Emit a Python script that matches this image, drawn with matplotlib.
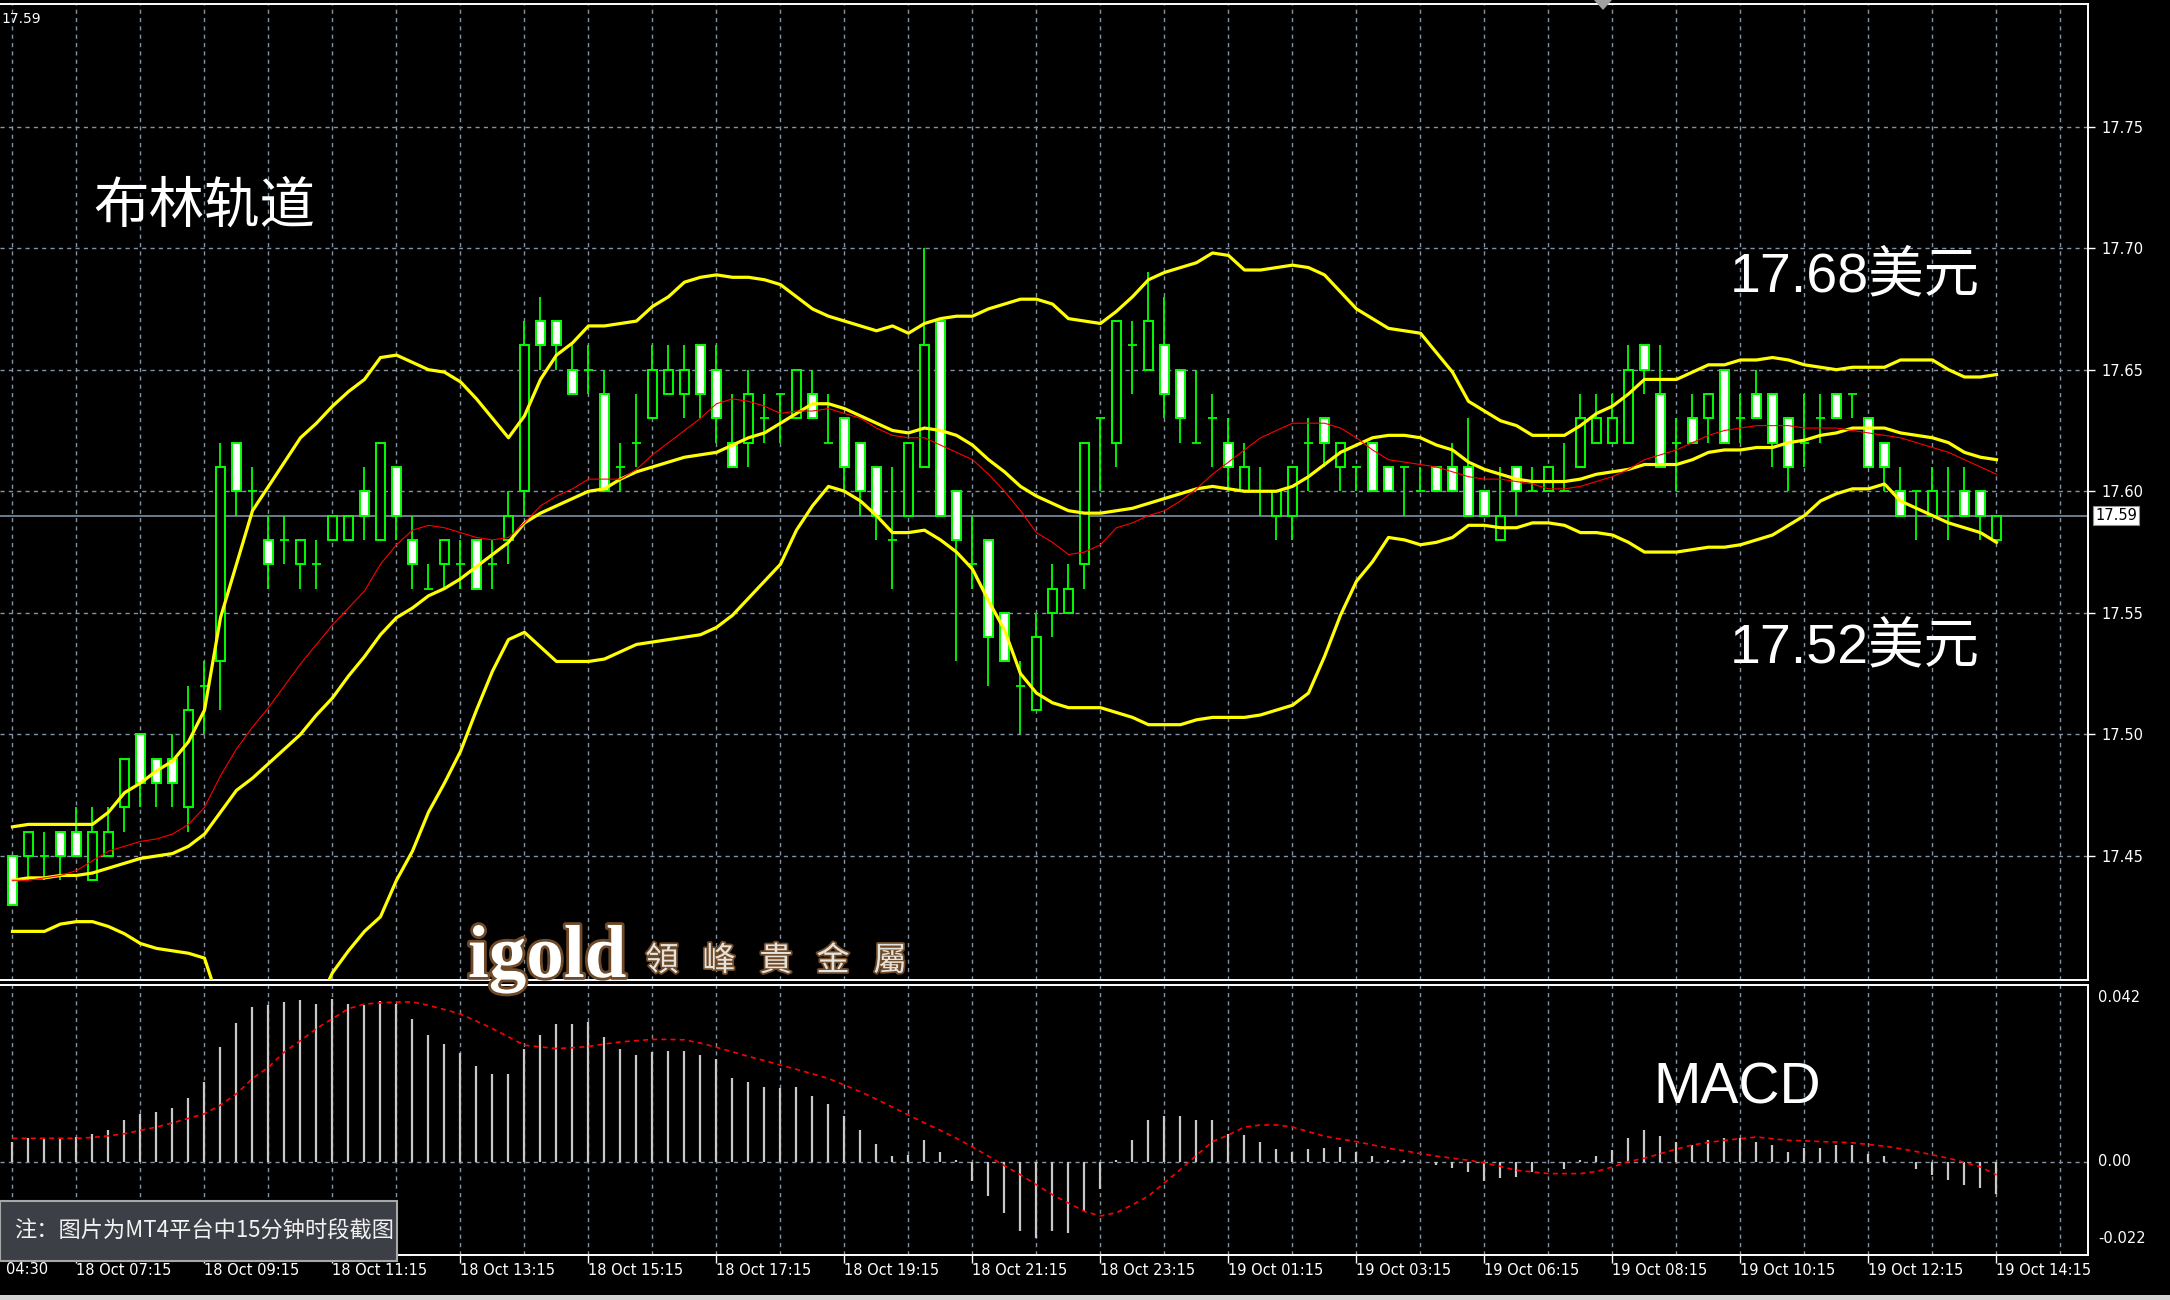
import matplotlib
matplotlib.use('Agg')
import matplotlib.pyplot as plt
from matplotlib.patches import Rectangle, Polygon
import matplotlib.patheffects as pe
import matplotlib.transforms as mtransforms

# ---------------- data ----------------
opens = [17.45,17.45,17.45,17.46,17.46,17.44,17.45,17.47,17.50,17.49,17.49,17.47,17.52,17.53,17.62,17.60,17.58,17.58,17.57,17.57,
         17.58,17.58,17.60,17.58,17.61,17.58,17.56,17.57,17.57,17.58,17.57,17.58,17.60,17.67,17.67,17.65,17.65,17.64,17.61,17.62,
         17.63,17.64,17.64,17.66,17.65,17.62,17.62,17.63,17.64,17.63,17.64,17.62,17.63,17.62,17.61,17.58,17.59,17.61,17.67,17.60,
         17.57,17.58,17.55,17.52,17.51,17.55,17.55,17.57,17.63,17.62,17.66,17.65,17.66,17.65,17.62,17.63,17.62,17.60,17.60,17.59,
         17.59,17.62,17.63,17.61,17.61,17.62,17.61,17.61,17.60,17.61,17.61,17.61,17.60,17.58,17.61,17.60,17.60,17.60,17.61,17.62,
         17.62,17.62,17.66,17.64,17.62,17.63,17.63,17.65,17.63,17.64,17.64,17.63,17.62,17.63,17.64,17.64,17.63,17.62,17.60,17.60,
         17.59,17.59,17.60,17.60,17.58]
highs = [17.45,17.46,17.46,17.46,17.47,17.47,17.47,17.49,17.50,17.49,17.50,17.52,17.53,17.62,17.62,17.61,17.59,17.59,17.58,17.58,
         17.59,17.59,17.61,17.62,17.61,17.59,17.57,17.58,17.58,17.58,17.58,17.60,17.67,17.68,17.67,17.66,17.66,17.65,17.62,17.64,
         17.66,17.66,17.66,17.66,17.66,17.64,17.65,17.64,17.64,17.65,17.65,17.64,17.63,17.62,17.61,17.61,17.62,17.70,17.67,17.60,
         17.59,17.58,17.55,17.53,17.55,17.57,17.57,17.62,17.63,17.67,17.67,17.69,17.68,17.65,17.65,17.64,17.63,17.62,17.61,17.60,
         17.61,17.63,17.63,17.62,17.61,17.62,17.61,17.61,17.61,17.61,17.62,17.63,17.60,17.61,17.61,17.61,17.61,17.62,17.64,17.64,
         17.64,17.66,17.66,17.66,17.63,17.64,17.64,17.65,17.64,17.65,17.64,17.63,17.64,17.64,17.64,17.64,17.63,17.62,17.61,17.60,
         17.61,17.61,17.61,17.60,17.59]
lows = [17.43,17.44,17.44,17.44,17.45,17.44,17.45,17.46,17.47,17.47,17.47,17.46,17.50,17.51,17.59,17.59,17.56,17.57,17.56,17.56,
        17.58,17.58,17.58,17.58,17.58,17.56,17.56,17.56,17.56,17.56,17.56,17.57,17.59,17.65,17.65,17.64,17.64,17.60,17.60,17.61,
        17.63,17.64,17.63,17.63,17.62,17.61,17.61,17.62,17.62,17.63,17.63,17.62,17.60,17.59,17.58,17.56,17.59,17.61,17.59,17.53,
        17.56,17.52,17.53,17.50,17.51,17.54,17.55,17.56,17.60,17.61,17.64,17.65,17.63,17.62,17.62,17.61,17.60,17.60,17.59,17.58,
        17.58,17.60,17.61,17.60,17.60,17.60,17.60,17.59,17.60,17.60,17.60,17.59,17.59,17.58,17.59,17.60,17.60,17.60,17.61,17.62,
        17.62,17.62,17.64,17.61,17.60,17.62,17.62,17.62,17.62,17.63,17.61,17.60,17.61,17.62,17.63,17.63,17.61,17.60,17.59,17.58,
        17.59,17.58,17.59,17.58,17.58]
closes = [17.43,17.46,17.45,17.45,17.45,17.46,17.46,17.49,17.48,17.48,17.48,17.51,17.52,17.61,17.60,17.60,17.57,17.58,17.58,17.57,
          17.59,17.59,17.59,17.62,17.59,17.57,17.56,17.58,17.57,17.56,17.57,17.59,17.66,17.66,17.66,17.64,17.65,17.60,17.61,17.62,
          17.65,17.65,17.65,17.64,17.63,17.61,17.64,17.63,17.64,17.65,17.63,17.62,17.61,17.60,17.59,17.58,17.62,17.66,17.59,17.58,
          17.57,17.54,17.53,17.52,17.54,17.56,17.56,17.62,17.63,17.67,17.66,17.67,17.64,17.63,17.62,17.63,17.61,17.61,17.60,17.60,
          17.61,17.62,17.62,17.62,17.61,17.60,17.60,17.61,17.60,17.60,17.60,17.59,17.59,17.59,17.60,17.60,17.61,17.60,17.63,17.63,
          17.63,17.65,17.65,17.61,17.62,17.62,17.64,17.62,17.63,17.63,17.62,17.61,17.62,17.63,17.63,17.64,17.61,17.61,17.59,17.60,
          17.60,17.59,17.59,17.59,17.59]

bb_upper = [17.462,17.463,17.463,17.463,17.463,17.463,17.468,17.476,17.480,17.485,17.489,17.497,17.510,17.548,17.570,17.592,17.602,17.612,17.622,17.628,
            17.635,17.641,17.646,17.655,17.656,17.653,17.650,17.649,17.645,17.638,17.630,17.622,17.631,17.646,17.656,17.661,17.668,17.668,17.669,17.670,
            17.676,17.680,17.686,17.688,17.689,17.688,17.688,17.687,17.685,17.680,17.675,17.672,17.670,17.668,17.666,17.668,17.665,17.669,17.671,17.672,
            17.672,17.675,17.677,17.679,17.679,17.677,17.671,17.670,17.669,17.674,17.680,17.687,17.690,17.692,17.694,17.698,17.697,17.691,17.691,17.692,
            17.693,17.692,17.689,17.682,17.675,17.671,17.667,17.666,17.665,17.657,17.649,17.637,17.633,17.629,17.627,17.623,17.623,17.623,17.627,17.632,
            17.635,17.640,17.646,17.646,17.646,17.649,17.652,17.652,17.654,17.654,17.655,17.654,17.652,17.651,17.650,17.651,17.651,17.651,17.654,17.654,
            17.654,17.650,17.647,17.647,17.648]
bb_middle = [17.440,17.441,17.441,17.442,17.442,17.443,17.445,17.447,17.449,17.450,17.451,17.454,17.459,17.468,17.477,17.482,17.488,17.494,17.500,17.508,
             17.515,17.524,17.532,17.541,17.548,17.552,17.557,17.560,17.564,17.569,17.574,17.579,17.587,17.591,17.594,17.597,17.600,17.601,17.605,17.608,
             17.610,17.612,17.614,17.615,17.616,17.619,17.622,17.624,17.628,17.632,17.636,17.636,17.634,17.631,17.628,17.625,17.624,17.626,17.625,17.623,
             17.619,17.613,17.608,17.602,17.598,17.595,17.592,17.591,17.591,17.592,17.593,17.595,17.597,17.599,17.601,17.602,17.601,17.600,17.600,17.600,
             17.602,17.606,17.611,17.616,17.619,17.622,17.623,17.623,17.622,17.619,17.617,17.612,17.609,17.607,17.605,17.604,17.604,17.604,17.605,17.607,
             17.608,17.609,17.611,17.611,17.611,17.613,17.616,17.617,17.617,17.618,17.618,17.620,17.621,17.623,17.624,17.626,17.626,17.626,17.624,17.623,
             17.622,17.620,17.616,17.614,17.613]
bb_lower = [17.419,17.419,17.419,17.422,17.423,17.423,17.421,17.418,17.414,17.412,17.411,17.410,17.408,17.388,17.384,17.372,17.374,17.376,17.378,17.388,
            17.402,17.411,17.419,17.425,17.440,17.452,17.468,17.480,17.493,17.510,17.526,17.539,17.542,17.536,17.530,17.530,17.530,17.531,17.534,17.537,
            17.538,17.539,17.540,17.541,17.544,17.549,17.556,17.563,17.570,17.584,17.594,17.602,17.600,17.596,17.590,17.583,17.583,17.584,17.580,17.575,
            17.568,17.555,17.543,17.525,17.517,17.513,17.511,17.511,17.511,17.509,17.507,17.504,17.504,17.504,17.506,17.507,17.507,17.507,17.508,17.510,
            17.512,17.517,17.532,17.549,17.563,17.571,17.581,17.580,17.578,17.579,17.581,17.586,17.586,17.585,17.585,17.587,17.587,17.586,17.583,17.583,
            17.582,17.579,17.575,17.575,17.575,17.576,17.577,17.577,17.578,17.580,17.582,17.586,17.590,17.596,17.599,17.601,17.601,17.603,17.596,17.593,
            17.590,17.587,17.585,17.583,17.579]
ma_red = [17.440,17.440,17.441,17.442,17.444,17.448,17.452,17.454,17.456,17.457,17.459,17.463,17.470,17.483,17.494,17.503,17.511,17.520,17.529,17.537,
          17.545,17.552,17.559,17.570,17.578,17.584,17.586,17.585,17.583,17.581,17.580,17.581,17.587,17.594,17.598,17.601,17.605,17.605,17.605,17.609,
          17.615,17.620,17.625,17.630,17.636,17.638,17.637,17.635,17.632,17.633,17.633,17.634,17.632,17.630,17.626,17.623,17.622,17.622,17.619,17.616,
          17.613,17.607,17.600,17.592,17.583,17.579,17.574,17.575,17.578,17.585,17.587,17.590,17.592,17.596,17.601,17.607,17.612,17.617,17.622,17.625,
          17.628,17.628,17.628,17.626,17.622,17.617,17.613,17.612,17.611,17.610,17.608,17.606,17.605,17.605,17.604,17.603,17.601,17.601,17.602,17.604,
          17.606,17.609,17.613,17.615,17.617,17.620,17.623,17.625,17.626,17.627,17.627,17.627,17.626,17.626,17.626,17.625,17.624,17.623,17.622,17.620,
          17.618,17.616,17.613,17.610,17.607]
macd_hist = [0.0048,0.0056,0.0056,0.0056,0.0060,0.0067,0.0077,0.0100,0.0115,0.0120,0.0130,0.0152,0.0192,0.0275,0.0333,0.0371,0.0376,0.0384,0.0389,0.0379,
             0.0392,0.0379,0.0376,0.0387,0.0379,0.0342,0.0304,0.0283,0.0261,0.0229,0.0211,0.0211,0.0272,0.0304,0.0331,0.0331,0.0336,0.0299,0.0272,0.0256,
             0.0264,0.0267,0.0267,0.0256,0.0248,0.0200,0.0192,0.0179,0.0176,0.0179,0.0158,0.0139,0.0109,0.0077,0.0043,0.0013,0.0016,0.0051,0.0024,0.0003,
             -0.0048,-0.0083,-0.0125,-0.0168,-0.0184,-0.0168,-0.0171,-0.0120,-0.0067,0.0003,0.0051,0.0099,0.0109,0.0109,0.0099,0.0099,0.0067,0.0064,0.0048,0.0029,
             0.0024,0.0029,0.0032,0.0035,0.0024,0.0013,0.0003,0.0003,0.0000,-0.0008,-0.0016,-0.0024,-0.0048,-0.0040,-0.0037,-0.0024,0.0000,-0.0019,0.0003,0.0013,
             0.0028,0.0056,0.0077,0.0061,0.0048,0.0040,0.0051,0.0056,0.0056,0.0048,0.0040,0.0024,0.0032,0.0032,0.0040,0.0040,0.0019,0.0013,0.0000,-0.0019,
             -0.0032,-0.0045,-0.0056,-0.0064,-0.0077]
macd_signal = [0.0056,0.0056,0.0056,0.0056,0.0056,0.0058,0.0062,0.0067,0.0075,0.0083,0.0093,0.0104,0.0115,0.0136,0.0163,0.0200,0.0227,0.0264,0.0291,0.0320,
               0.0344,0.0368,0.0379,0.0382,0.0384,0.0384,0.0376,0.0366,0.0355,0.0338,0.0320,0.0300,0.0280,0.0276,0.0272,0.0274,0.0277,0.0283,0.0288,0.0291,
               0.0294,0.0294,0.0293,0.0285,0.0275,0.0264,0.0253,0.0243,0.0232,0.0222,0.0211,0.0200,0.0184,0.0168,0.0150,0.0131,0.0112,0.0093,0.0075,0.0056,
               0.0035,0.0013,-0.0010,-0.0032,-0.0056,-0.0080,-0.0100,-0.0120,-0.0131,-0.0123,-0.0104,-0.0083,-0.0051,-0.0019,0.0015,0.0048,0.0064,0.0083,0.0088,0.0088,
               0.0083,0.0072,0.0061,0.0054,0.0048,0.0040,0.0032,0.0026,0.0019,0.0013,0.0008,0.0003,-0.0003,-0.0012,-0.0021,-0.0025,-0.0029,-0.0029,-0.0029,-0.0024,
               -0.0013,0.0000,0.0008,0.0019,0.0030,0.0040,0.0046,0.0051,0.0055,0.0059,0.0055,0.0051,0.0050,0.0048,0.0047,0.0045,0.0041,0.0037,0.0031,0.0024,
               0.0016,0.0008,-0.0002,-0.0013,-0.0032]

price_ticks = [17.45, 17.50, 17.55, 17.60, 17.65, 17.70, 17.75]
current_price = 17.59
first_label = '04:30'
time_labels = ['18 Oct 07:15', '18 Oct 09:15', '18 Oct 11:15', '18 Oct 13:15', '18 Oct 15:15',
               '18 Oct 17:15', '18 Oct 19:15', '18 Oct 21:15', '18 Oct 23:15', '19 Oct 01:15', '19 Oct 03:15',
               '19 Oct 06:15', '19 Oct 08:15', '19 Oct 10:15', '19 Oct 12:15', '19 Oct 14:15']
macd_labels = ['0.042', '0.00', '-0.022']

# ---------------- figure ----------------
W, H = 2170, 1300
fig = plt.figure(figsize=(W / 100, H / 100), dpi=100, facecolor='black')

def fx(px):
    return px / W

def fy(py):
    return 1 - py / H

GRID = '#8393a4'
LIME = '#00ff00'

ax = fig.add_axes([0, fy(980), fx(2088), fy(4) - fy(980)], facecolor='black')
axm = fig.add_axes([0, fy(1255), fx(2088), fy(985) - fy(1255)], facecolor='black')

n = len(closes)
xs = list(range(n))
x_left, x_right = -0.78, 129.72
y_lo, y_hi = 17.399, 17.8004
m_lo, m_hi = -0.0225, 0.0425

for a in (ax, axm):
    a.set_xlim(x_left, x_right)
    for s in ('top', 'right', 'bottom'):
        a.spines[s].set_color('white')
        a.spines[s].set_linewidth(1.4)
    a.spines['left'].set_visible(False)
    for gx in range(0, 132, 4):
        a.axvline(gx, color=GRID, lw=1.0, ls=(0, (3, 3)), zorder=0.5)

ax.set_ylim(y_lo, y_hi)
axm.set_ylim(m_lo, m_hi)

for p in price_ticks:
    ax.axhline(p, color=GRID, lw=1.0, ls=(0, (3, 3)), zorder=0.5)
axm.axhline(0, color=GRID, lw=1.0, ls=(0, (3, 3)), zorder=0.5)

# price line
ax.axhline(current_price, color='#8a9bb0', lw=1.1, zorder=1)

# candles
bw = 0.56
for i in xs:
    o, h, l, c = opens[i], highs[i], lows[i], closes[i]
    ax.vlines(i, l, h, color=LIME, lw=1.3, zorder=2)
    if abs(c - o) < 1e-9:
        ax.hlines(o, i - bw / 2, i + bw / 2, color=LIME, lw=1.3, zorder=3)
    else:
        face = 'black' if c > o else 'white'
        ax.add_patch(Rectangle((i - bw / 2, min(o, c)), bw, abs(c - o), facecolor=face,
                               edgecolor=LIME, lw=1.4, zorder=3))

# indicators
for band in (bb_upper, bb_middle, bb_lower):
    ax.plot(xs, band, color='#ffff00', lw=2.3, zorder=4, solid_joinstyle='round')
ax.plot(xs, ma_red, color='#ff0000', lw=0.8, zorder=5)

# main axis ticks (right)
ax.yaxis.tick_right()
ax.set_yticks(price_ticks)
ax.set_yticklabels([f'{p:.2f}' for p in price_ticks])
ax.tick_params(axis='y', colors='white', labelcolor='white', length=5, width=1, labelsize=10.5, pad=5)
ax.set_xticks([])

# current price box
ax.text(1.0035, (current_price - y_lo) / (y_hi - y_lo), f'{current_price:.2f}', transform=ax.transAxes,
        ha='left', va='center', fontsize=10.5, color='black', clip_on=False,
        bbox=dict(boxstyle='square,pad=0.15', facecolor='white', edgecolor='#909090', lw=0.8))

# MACD
axm.vlines(xs, 0, macd_hist, color='#c8c8c8', lw=1.6, zorder=2)
axm.plot(xs, macd_signal, color='#ff0000', lw=1.2, ls=(0, (3, 2.5)), zorder=3)
axm.set_yticks([])
label_bars = list(range(4, n + 1, 8))
axm.set_xticks(label_bars)
axm.set_xticklabels([])
axm.tick_params(axis='x', colors='white', length=6, width=1, direction='out')
trans = mtransforms.blended_transform_factory(axm.transData, axm.transAxes)
for b, lab in zip(label_bars, time_labels):
    axm.text(b, -0.058, lab, transform=trans, ha='left', va='center', fontsize=10.5,
             color='white', clip_on=False)
fig.text(fx(6), fy(1270), first_label, ha='left', va='center', fontsize=10.5, color='white')
macd_label_y = [0.955, (0 - m_lo) / (m_hi - m_lo), 0.06]
for yy, lab in zip(macd_label_y, macd_labels):
    axm.text(1.005, yy, lab, transform=axm.transAxes, ha='left', va='center', fontsize=10.5,
             color='white', clip_on=False)

# ---------------- overlay texts ----------------
cjk = ['Noto Sans CJK SC', 'DejaVu Sans']
latin_cjk = ['Liberation Sans', 'Noto Sans CJK SC']
fig.text(fx(93), fy(207), '布林轨道', family=cjk, fontsize=40, color='white', va='center', ha='left')
fig.text(fx(1730), fy(277), '17.68美元', family=latin_cjk, fontsize=40, color='white', va='center', ha='left')
fig.text(fx(1730), fy(648), '17.52美元', family=latin_cjk, fontsize=40, color='white', va='center', ha='left')
fig.text(fx(1653), fy(1088), 'MACD', family='Liberation Sans', fontsize=41, color='white', va='center', ha='left')
fig.text(fx(1), fy(19), '17.59', fontsize=10, color='white', va='center', ha='left')

# watermark
glow = [pe.withStroke(linewidth=4, foreground='#6e4a28')]
fig.text(fx(468), fy(977), 'igold', family='Liberation Serif', fontweight='bold', fontsize=54,
         color='white', va='baseline', ha='left', path_effects=glow, zorder=10)
for k, ch in enumerate('領峰貴金屬'):
    fig.text(fx(662 + 57 * k), fy(961), ch, family=['Noto Sans CJK TC', 'DejaVu Sans'], fontsize=24,
             color='#e6e2dc', ha='center', va='center',
             path_effects=[pe.withStroke(linewidth=2.5, foreground='#6e4a28')], zorder=10)

# note box
fig.patches.append(Rectangle((0, fy(1261)), fx(397), fy(1201) - fy(1261), transform=fig.transFigure,
                             facecolor='#3c4046', edgecolor='#a8a8a8', lw=1.5, zorder=8))
fig.text(fx(14), fy(1231), '注：图片为MT4平台中15分钟时段截图', family=cjk, fontsize=16,
         color='#f2f2f2', va='center', ha='left', zorder=9)

# chart-shift marker
fig.patches.append(Polygon([(fx(1594), fy(0)), (fx(1612), fy(0)), (fx(1603), fy(10))], closed=True,
                           transform=fig.transFigure, facecolor='#a0a0a0', edgecolor='none', zorder=9))

# bottom tab strip
fig.patches.append(Rectangle((0, 0), 1, fy(1295), transform=fig.transFigure,
                             facecolor='#d4d4d4', edgecolor='none', zorder=9))

fig.savefig('out.png', dpi=100, facecolor='black')
